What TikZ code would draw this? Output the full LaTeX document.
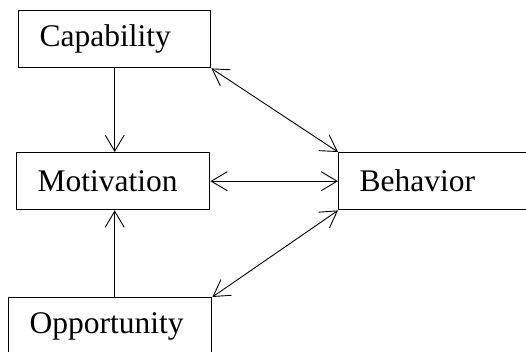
\documentclass[tikz,border=0pt]{standalone}
\usepackage{fontspec}
\setmainfont{Liberation Serif}
\usetikzlibrary{arrows.meta}
\begin{document}
\begin{tikzpicture}[x=1pt,y=-1pt,
  box/.style={draw,line width=1.4pt,rectangle,minimum height=57pt,inner xsep=21pt,inner ysep=0pt,align=left,
    font=\fontsize{31.5}{36}\selectfont},
  link/.style={line width=0.9pt,>={Straight Barb[length=16pt,width=19pt]}}]
\useasboundingbox (0,0) rectangle (526,351);
\fill[white] (0,0) rectangle (526,351);
\clip (0,0) rectangle (526,351);
\node[box,text width=150pt,anchor=north west] (cap) at (18,10) {Capability};
\node[box,text width=151pt,anchor=north west] (mot) at (16,152) {Motivation};
\node[box,text width=190pt,anchor=north west] (beh) at (338,152) {Behavior};
\node[box,text width=161pt,anchor=north west] (opp) at (8,297) {Opportunity};
\draw[link,->] (cap.south) -- (cap.south |- mot.north);
\draw[link,->] (opp.north -| cap.south) -- (cap.south |- mot.south);
\draw[link,<->] (mot.east) -- (beh.west);
\draw[link,<->] (cap.south east) -- (beh.north west);
\draw[link,<->] (opp.north east) -- (beh.south west);
\end{tikzpicture}
\end{document}
